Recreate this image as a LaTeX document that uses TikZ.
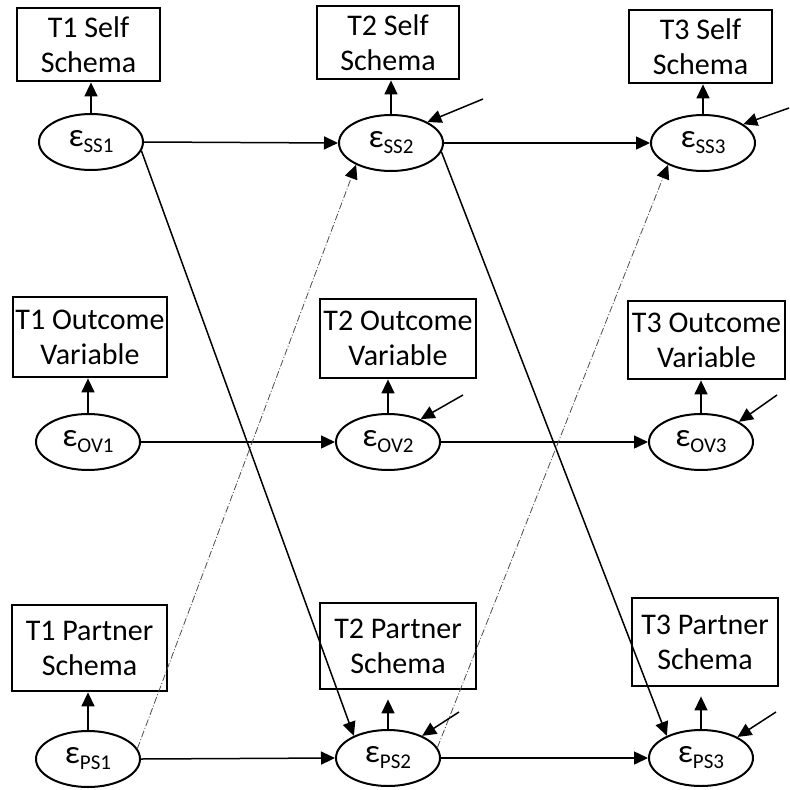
\documentclass[tikz,border=0pt]{standalone}
\usepackage{fontspec}
\setmainfont{Carlito}
\usetikzlibrary{arrows.meta,shapes.geometric}

% residual label: epsilon with a lowered subscript
\newcommand{\resid}[1]{{\fontsize{33}{33}\selectfont ε}\raisebox{-6pt}{\fontsize{21}{21}\selectfont #1}}

\begin{document}
\begin{tikzpicture}[x=1pt,y=-1pt,
  every node/.style={font=\fontsize{30}{35}\selectfont},
  obs/.style={draw,line width=2.8pt,align=center,inner sep=0pt},
  err/.style={draw,ellipse,line width=2pt,minimum width=104pt,minimum height=56pt,inner sep=0pt},
  arr/.style={line width=1.5pt,-{Triangle[length=14pt,width=13pt]}},
  cross/.style={line width=0.8pt,draw=black!70,dash pattern=on 7pt off 2pt on 1pt off 2pt,
    -{Triangle[length=14pt,width=13pt,color=black,fill=black]}}]
\useasboundingbox (0,0) rectangle (790,790);

% observed measures
\node[obs,minimum width=143pt,minimum height=73pt] (b11) at (88.5,44.5) {T1 Self\\Schema};
\node[obs,minimum width=142pt,minimum height=73pt] (b21) at (388,42.5) {T2 Self\\Schema};
\node[obs,minimum width=143pt,minimum height=73pt] (b31) at (700.5,46.5) {T3 Self\\Schema};
\node[obs,minimum width=154pt,minimum height=80pt] (b12) at (90,337) {T1 Outcome\\Variable};
\node[obs,minimum width=156pt,minimum height=79pt] (b22) at (398,338.5) {T2 Outcome\\Variable};
\node[obs,minimum width=157pt,minimum height=78pt] (b32) at (706.5,340) {T3 Outcome\\Variable};
\node[obs,minimum width=155pt,minimum height=86pt] (b13) at (89.5,648) {T1 Partner\\Schema};
\node[obs,minimum width=156pt,minimum height=86pt] (b23) at (398,646) {T2 Partner\\Schema};
\node[obs,minimum width=146pt,minimum height=88pt] (b33) at (705,642) {T3 Partner\\Schema};

% latent residuals
\node[err] (ss1) at (91,142) {\resid{SS1}};
\node[err] (ss2) at (391,143) {\resid{SS2}};
\node[err] (ss3) at (703,143) {\resid{SS3}};
\node[err] (ov1) at (88,442) {\resid{OV1}};
\node[err] (ov2) at (388,442) {\resid{OV2}};
\node[err] (ov3) at (701,442) {\resid{OV3}};
\node[err] (ps1) at (88,759) {\resid{PS1}};
\node[err] (ps2) at (388,758) {\resid{PS2}};
\node[err] (ps3) at (701,758) {\resid{PS3}};

% loadings onto the measures
\foreach \e/\b in {ss1/b11,ss2/b21,ss3/b31,ov1/b12,ov2/b22,ov3/b32,ps1/b13}
  \draw[arr] (\e.north) -- (\e.north |- \b.south);
\foreach \e/\b in {ps2/b23,ps3/b33}
  \draw[arr,shorten >=9pt] (\e.north) -- (\e.north |- \b.south);

% stability paths
\draw[arr] (ss1.east) -- (ss2.west);
\draw[arr] (ss2.east) -- (ss3.west);
\draw[arr] (ov1.east) -- (ov2.west);
\draw[arr] (ov2.east) -- (ov3.west);
\draw[arr] (ps1.east) -- (ps2.west);
\draw[arr] (ps2.east) -- (ps3.west);

% cross-lagged paths
\draw[arr] (ss1.-10) -- (ps2.147);
\draw[arr] (ss2.-10) -- (ps3.147);
\draw[cross] (ps1.12) -- (ss2.212);
\draw[cross] (ps2.12) -- (ss3.212);

% disturbances
\coordinate (d21) at (483,99);
\coordinate (d31) at (789,108);
\coordinate (d22) at (463,395);
\coordinate (d32) at (777,395);
\coordinate (d23) at (459,712);
\coordinate (d33) at (776,712);
\draw[arr] (d21) -- (ss2.30);
\draw[arr] (d31) -- (ss3.25);
\draw[arr] (d22) -- (ov2.35);
\draw[arr] (d32) -- (ov3.28);
\draw[arr] (d23) -- (ps2.33);
\draw[arr] (d33) -- (ps3.30);
\end{tikzpicture}
\end{document}
